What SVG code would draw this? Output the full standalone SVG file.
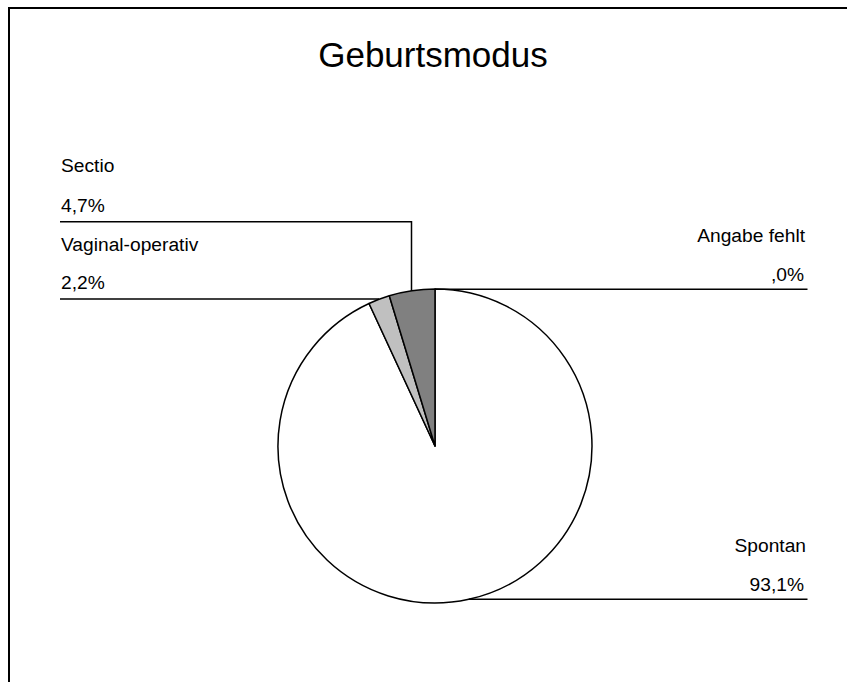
<svg xmlns="http://www.w3.org/2000/svg" width="847" height="682" viewBox="0 0 847 682">
<style>
text{font-family:"Liberation Sans",Arial,sans-serif;fill:#000}
.lbl{font-size:19.2px}
.title{font-size:35px}
.ln{fill:none;stroke:#000;stroke-width:1.5}
.sl{stroke:#000;stroke-width:1.5;stroke-linejoin:round}
</style>
<rect width="847" height="682" fill="#fff"/>
<polyline points="9,682 9,8 847,8" fill="none" stroke="#000" stroke-width="2"/>
<text class="title" x="433" y="66.5" text-anchor="middle">Geburtsmodus</text>
<g id="pie">
<g id="spontan"><path class="sl" fill="#fff" d="M435,446 L435,289 A157,157 0 1 1 369.04,303.52 Z"/></g>
<g id="vaginal"><path class="sl" fill="#c0c0c0" d="M435,446 L369.04,303.52 A157,157 0 0 1 389.3,295.8 Z"/></g>
<g id="sectio"><path class="sl" fill="#808080" d="M435,446 L389.3,295.8 A157,157 0 0 1 435,289 Z"/></g>
</g>
<g id="connectors">
<polyline class="ln" points="411.5,290.7 411.5,221.7 60,221.7"/>
<polyline class="ln" points="379,299 60,299"/>
<polyline class="ln" points="435,289.3 807.5,289.3"/>
<polyline class="ln" points="468.8,599.3 807.5,599.3"/>
</g>
<g id="label-sectio">
<text class="lbl" x="61" y="171.7">Sectio</text>
<text class="lbl" x="61" y="211.5">4,7%</text>
</g>
<g id="label-vaginal">
<text class="lbl" x="61" y="250.5">Vaginal-operativ</text>
<text class="lbl" x="61" y="289.3">2,2%</text>
</g>
<g id="label-angabe">
<text class="lbl" x="805" y="241.7" text-anchor="end">Angabe fehlt</text>
<text class="lbl" x="804" y="280.7" text-anchor="end">,0%</text>
</g>
<g id="label-spontan">
<text class="lbl" x="806" y="551.7" text-anchor="end">Spontan</text>
<text class="lbl" x="804" y="590.5" text-anchor="end">93,1%</text>
</g>
</svg>
